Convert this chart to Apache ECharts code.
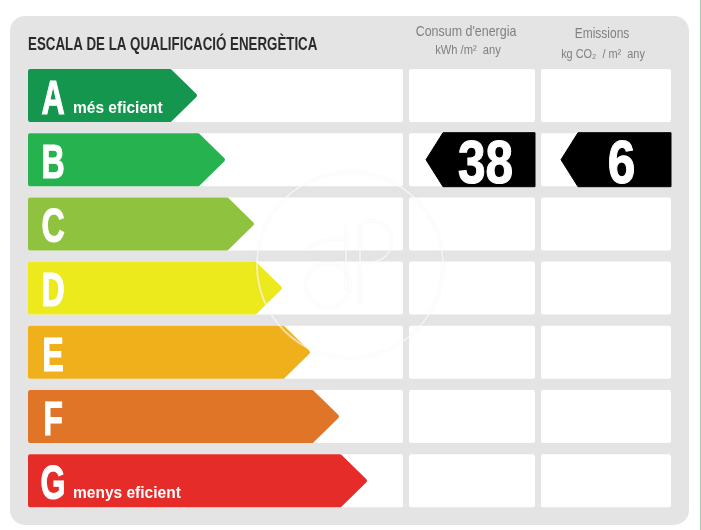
<!DOCTYPE html>
<html>
<head>
<meta charset="utf-8">
<style>
html, body { margin: 0; padding: 0; background: #fff; }
#chart { width: 701px; height: 530px; }
</style>
<script src="https://cdn.jsdelivr.net/npm/echarts@6/dist/echarts.min.js"></script>
</head>
<body>
<div id="chart"></div>
<script>
const classes = ["A", "B", "C", "D", "E", "F", "G"];
const classNotes = ["més eficient", "", "", "", "", "", "menys eficient"];
const barLengths = [169, 197, 226, 254, 282, 311, 339];
const classColors = ["#15964f", "#26b24f", "#8fc23f", "#ece91c", "#efb01c", "#e07528", "#e52c28"];
const consumValues = [null, 38, null, null, null, null, null];
const emissionValues = [null, 6, null, null, null, null, null];

const FONT = '"Liberation Sans", sans-serif';
const ROW_H = 53;
// columns of white cells, in axis units
const columns = [[0, 375], [381, 507], [513, 643]];

const chart = echarts.init(document.getElementById("chart"), null, { renderer: "canvas" });

// no narrow font is installed, so squeeze the text horizontally
const label = (text, x, y, font, fill, align, scaleX, outline) => ({
	type: "text",
	x: x,
	y: y,
	scaleX: scaleX,
	style: {
		text, x: 0, y: 0, font, fill, align,
		verticalAlign: "middle",
		stroke: outline ? fill : null,
		lineWidth: outline || 0
	}
});

const renderCells = (params, api) => {
	const cy = api.coord([0, api.value(0)])[1];
	return {
		type: "group",
		children: columns.map((c) => {
			const x0 = api.coord([c[0], 0])[0];
			const x1 = api.coord([c[1], 0])[0];
			return {
				type: "rect",
				shape: { x: x0, y: cy - ROW_H / 2, width: x1 - x0, height: ROW_H, r: 2 },
				style: { fill: "#fff" }
			};
		})
	};
};

const renderArrow = (params, api) => {
	const i = params.dataIndex;
	const p = api.coord([api.value(1), api.value(0)]);
	const x0 = api.coord([0, 0])[0] + 2;
	const tip = p[0] - 2;
	const cy = p[1];
	const h = ROW_H / 2 - 2;
	const children = [
		{
			type: "polygon",
			shape: { points: [[x0, cy - h], [tip - 25, cy - h], [tip, cy], [tip - 25, cy + h], [x0, cy + h]] },
			style: { fill: classColors[i], stroke: classColors[i], lineWidth: 4, lineJoin: "round" }
		},
		label(classes[i], x0 + 23, cy + 5, "bold 48px " + FONT, "#fff", "center", 0.67, 1.2)
	];
	if (classNotes[i]) {
		children.push(label(classNotes[i], x0 + 43, cy + 13, "bold 16px " + FONT, "#fff", "left", 0.97));
	}
	return { type: "group", children };
};

// black flag pointing left, with the value inside
const renderFlag = (col, notch) => (params, api) => {
	const cy = api.coord([0, api.value(0)])[1];
	const x1 = api.coord([columns[col][1], 0])[0];
	const x0 = x1 - notch;
	const h = ROW_H / 2 + 0.5;
	return {
		type: "group",
		children: [
			{
				type: "polygon",
				shape: { points: [[x0, cy], [x0 + 17, cy - h], [x1, cy - h], [x1, cy + h], [x0 + 17, cy + h]] },
				style: { fill: "#000", stroke: "#000", lineWidth: 1, lineJoin: "round" }
			},
			label(String(api.value(1)), x1 - 49.5, cy + 6.5, "bold 62px " + FONT, "#fff", "center", 0.8, 1.2)
		]
	};
};

const rowData = (values) =>
	values.map((v, i) => [i, v]).filter((d) => d[1] !== null);

// faint round stamp over the chart: a grey pass shows on white, a white pass on colour
const stampShapes = [
	{ type: "circle", shape: { cx: 350, cy: 265, r: 93 } },
	{ type: "circle", shape: { cx: 328, cy: 285, r: 22 } },
	{ type: "line", shape: { x1: 346, y1: 225, x2: 346, y2: 290 } },
	{ type: "line", shape: { x1: 360, y1: 224, x2: 360, y2: 306 } },
	{ type: "bezierCurve", shape: { x1: 306, y1: 250, cpx1: 318, cpy1: 241, cpx2: 334, cpy2: 237, x2: 346, y2: 240 } },
	{ type: "bezierCurve", shape: { x1: 360, y1: 224, cpx1: 382, cpy1: 214, cpx2: 392, cpy2: 230, x2: 391, y2: 243 } },
	{ type: "bezierCurve", shape: { x1: 391, y1: 243, cpx1: 391, cpy1: 258, cpx2: 378, cpy2: 264, x2: 360, y2: 262 } }
];
const stampPass = (stroke, lineWidth, z) =>
	stampShapes.map((s) => ({
		type: s.type,
		shape: s.shape,
		z: z,
		style: { fill: "none", stroke, lineWidth }
	}));

const option = {
	animation: false,
	backgroundColor: "#fff",
	grid: { left: 28, width: 643, top: 63.4, height: 449.4 },
	xAxis: { type: "value", min: 0, max: 643, show: false },
	yAxis: { type: "category", data: classes, inverse: true, show: false },
	graphic: [
		{
			type: "rect",
			z: -10,
			shape: { x: 10, y: 16, width: 679, height: 509, r: 15 },
			style: { fill: "#e4e4e4" }
		},
		{
			type: "rect",
			z: -10,
			shape: { x: 700, y: 0, width: 1, height: 530 },
			style: { fill: "#9fd0b4" }
		},
		label("ESCALA DE LA QUALIFICACIÓ ENERGÈTICA", 28, 45, "bold 18px " + FONT, "#2b2b2b", "left", 0.74),
		label("Consum d'energia", 466, 32, "15px " + FONT, "#808080", "center", 0.83),
		label("kWh /m²  any", 468, 51, "12px " + FONT, "#808080", "center", 0.93),
		label("Emissions", 602, 34, "15px " + FONT, "#808080", "center", 0.8),
		label("kg CO₂  / m²  any", 603, 55, "12px " + FONT, "#808080", "center", 0.91),
		...stampPass("rgba(190,190,190,0.06)", 4, 20),
		...stampPass("rgba(255,255,255,0.55)", 2, 21)
	],
	series: [
		{
			type: "custom",
			coordinateSystem: "cartesian2d",
			encode: { x: 1, y: 0 },
			data: classes.map((c, i) => [i, 0]),
			renderItem: renderCells
		},
		{
			type: "custom",
			coordinateSystem: "cartesian2d",
			encode: { x: 1, y: 0 },
			data: barLengths.map((v, i) => [i, v]),
			renderItem: renderArrow
		},
		{
			type: "custom",
			coordinateSystem: "cartesian2d",
			encode: { y: 0 },
			data: rowData(consumValues),
			renderItem: renderFlag(1, 109)
		},
		{
			type: "custom",
			coordinateSystem: "cartesian2d",
			encode: { y: 0 },
			data: rowData(emissionValues),
			renderItem: renderFlag(2, 110)
		}
	]
};

chart.setOption(option);
</script>
</body>
</html>
